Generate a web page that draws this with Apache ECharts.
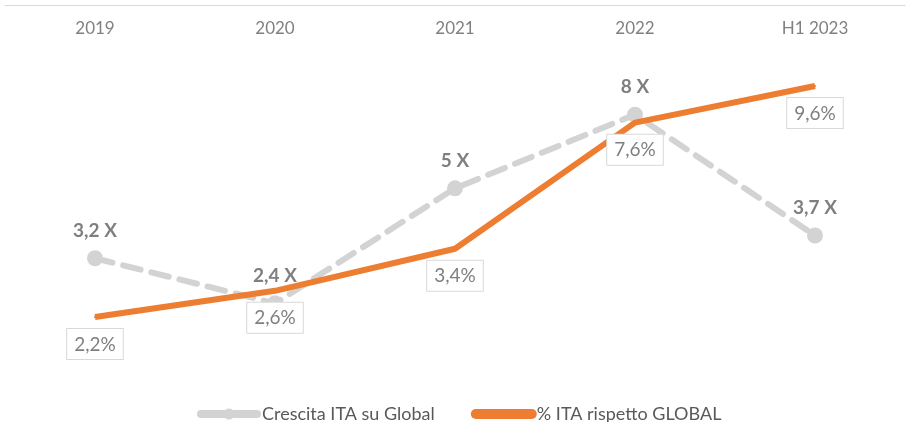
<!DOCTYPE html>
<html>
<head>
<meta charset="utf-8">
<script src="https://cdn.jsdelivr.net/npm/echarts@6/dist/echarts.min.js"></script>
<style>
	html, body { margin: 0; padding: 0; background: #fff; }
	#chart { width: 908px; height: 422px; }
</style>
</head>
<body>
<div id="chart"></div>
<script>
var categories = ['2019', '2020', '2021', '2022', 'H1 2023'];
var crescitaIta = [3.2, 2.4, 5, 8, 3.7];
var quotaIta = [2.2, 2.6, 3.4, 7.6, 9.6];
var seriesNames = ['Crescita ITA su Global', '% ITA rispetto GLOBAL'];

var font = 'Lato, "Open Sans", sans-serif';
var grey = '#d3d3d3';
var orange = '#ed7d31';

// numbers with the italian decimal comma, integers without decimals
function itNum(v) {
	return Number.isInteger(v) ? String(v) : v.toFixed(1).replace('.', ',');
}

var option = {
	animation: false,
	backgroundColor: '#fff',
	textStyle: { fontFamily: font },
	legend: {
		data: [
			{ name: seriesNames[0], lineStyle: { width: 8, type: 'solid', cap: 'round', color: grey } },
			{ name: seriesNames[1], itemStyle: { opacity: 0 }, lineStyle: { width: 10, cap: 'round', color: orange } }
		],
		left: 192,
		top: 400,
		itemWidth: 56,
		itemHeight: 14,
		itemGap: 36,
		textStyle: { color: '#595959', fontSize: 18, fontFamily: font }
	},
	grid: {
		left: 5,
		right: 3,
		top: 5,
		bottom: 10
	},
	xAxis: {
		type: 'category',
		position: 'top',
		data: categories,
		axisLine: { lineStyle: { color: '#d9d9d9', width: 1 } },
		axisTick: { show: false },
		axisLabel: { inside: true, margin: 15, color: '#808080', fontSize: 17 }
	},
	yAxis: {
		// the excel chart was drawn on a log scale, both series share it
		type: 'log',
		logBase: 10,
		min: 1.2,
		max: 16.1,
		show: false,
		splitLine: { show: false }
	},
	series: [
		{
			name: seriesNames[0],
			type: 'line',
			data: crescitaIta,
			symbol: 'circle',
			symbolSize: 16,
			itemStyle: { color: grey },
			lineStyle: { color: grey, width: 6, type: [18, 11], cap: 'round' },
			label: {
				show: true,
				position: 'top',
				distance: 10,
				color: '#7f7f7f',
				fontSize: 19,
				fontWeight: 'bold',
				formatter: function (p) { return itNum(p.value) + ' X'; }
			},
			z: 2
		},
		{
			name: seriesNames[1],
			type: 'line',
			data: quotaIta,
			symbol: 'circle',
			symbolSize: 2,
			itemStyle: { color: orange },
			lineStyle: { color: orange, width: 6 },
			label: {
				show: true,
				position: 'bottom',
				distance: 11,
				color: '#7f7f7f',
				fontSize: 19,
				backgroundColor: '#fff',
				borderColor: '#d9d9d9',
				borderWidth: 1,
				padding: [6, 7, 5, 7],
				formatter: function (p) { return itNum(p.value) + '%'; }
			},
			z: 3
		}
	]
};

var chart = echarts.init(document.getElementById('chart'));
chart.setOption(option);
</script>
</body>
</html>
